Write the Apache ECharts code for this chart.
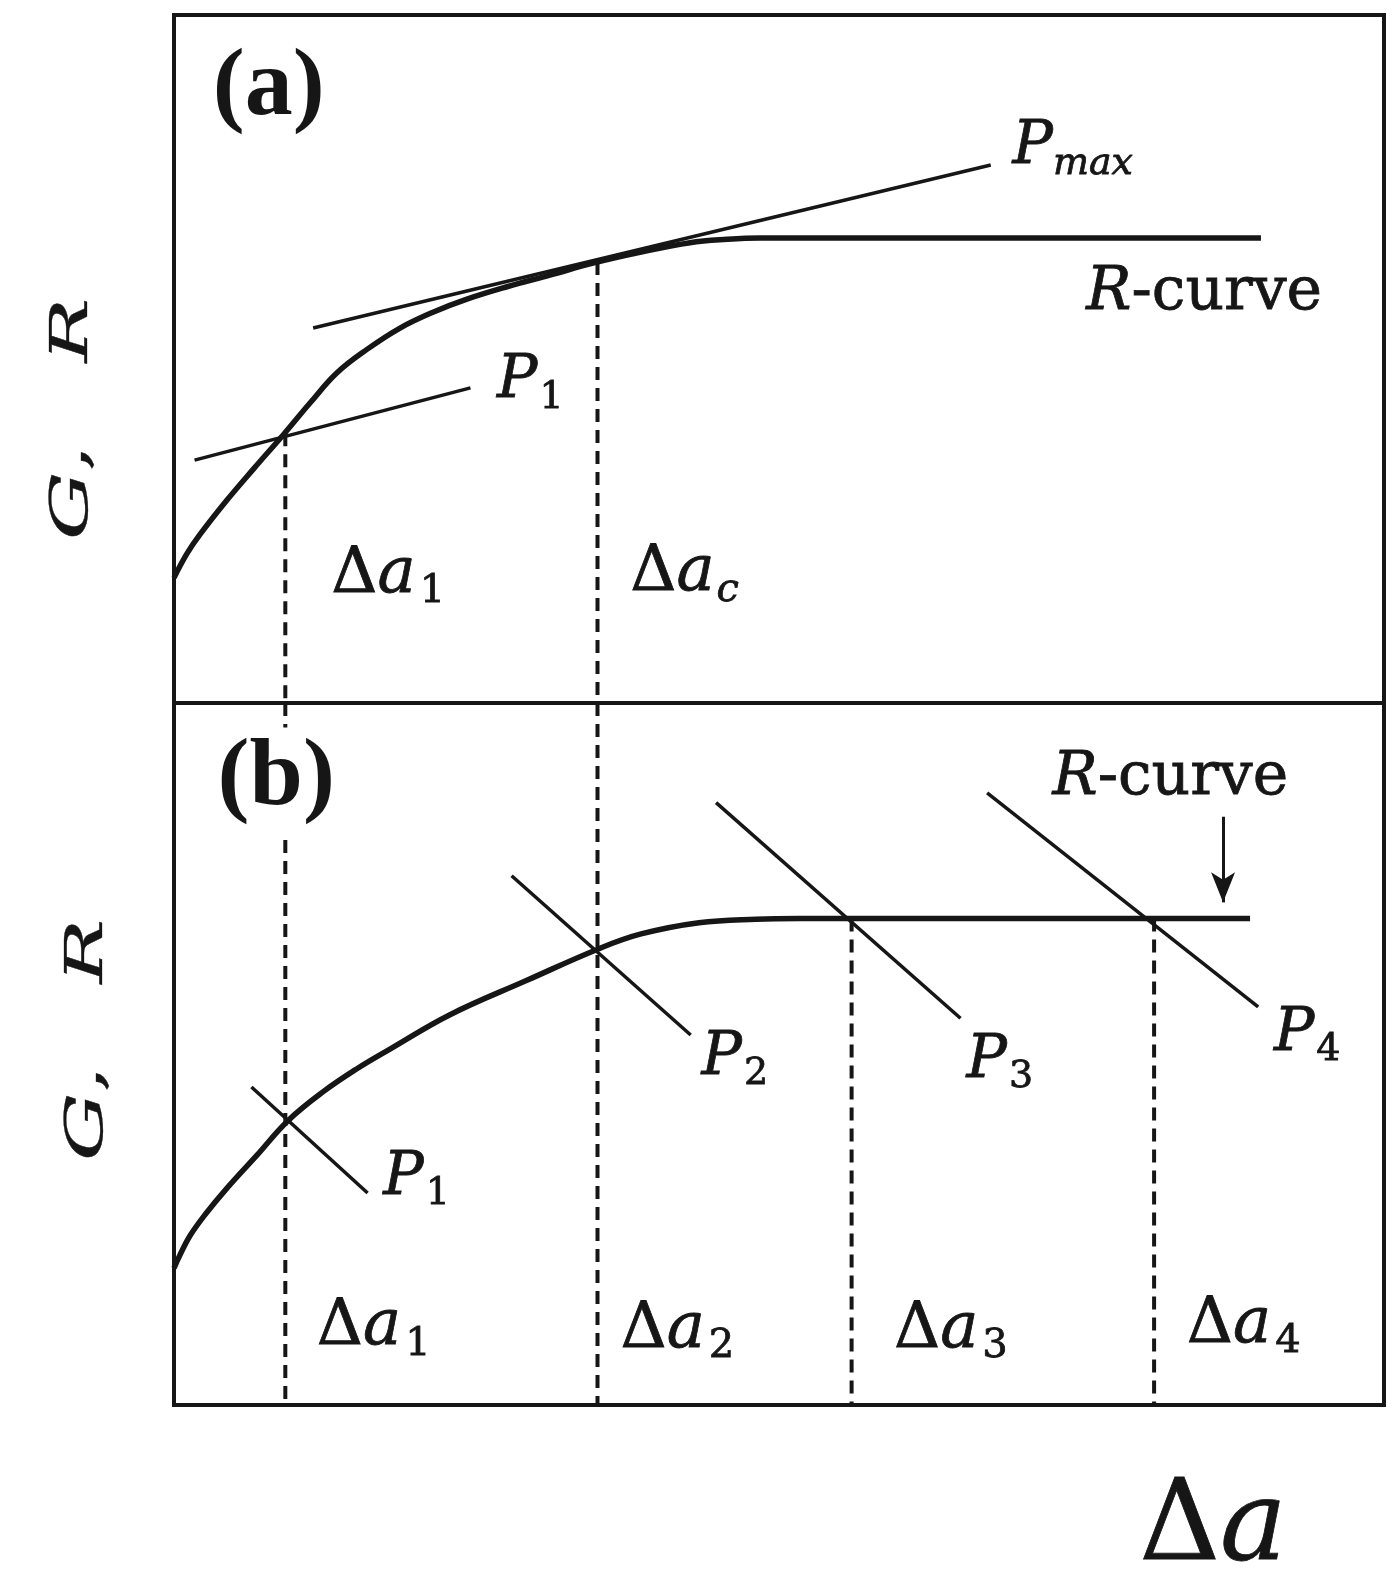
<!DOCTYPE html>
<html>
<head>
<meta charset="utf-8">
<title>R-curve</title>
<script src="https://cdn.jsdelivr.net/npm/echarts@6/dist/echarts.min.js"></script>
<style>
  html, body { margin: 0; padding: 0; background: #fff; }
  #chart { width: 1400px; height: 1587px; }
</style>
</head>
<body>
<div id="chart"></div>
<script>
// schematic units: crack growth 0..100 across, G/R 0..100 up each panel

// panel (a)
var rCurveA = [
  [0, 18.2], [1.07, 21.7], [2.15, 24.5], [4.38, 29.5], [6.61, 34.1], [9.09, 39.1],
  [11.24, 43.6], [13.47, 48.0], [15.95, 51.4], [18.68, 54.5], [21.4, 56.8],
  [24.21, 58.7], [27.52, 60.5], [31.07, 62.2], [34.79, 64.0], [38.51, 65.5],
  [42.64, 66.9], [45.7, 67.4], [48.43, 67.6], [89.83, 67.6]
];
var p1LineA = [[1.7, 35.3], [24.5, 45.8]];
var pMaxLineA = [[11.5, 54.5], [67.5, 78.2]];
var dashesA = [
  [[9.2, 39.2], [9.2, 0]],
  [[35.0, 64.1], [35.0, 0]]
];

// panel (b)
var rCurveB = [
  [0, 19.5], [0.5, 21.4], [1.32, 24.1], [2.56, 27.1], [4.38, 30.9], [6.86, 35.6],
  [9.42, 40.5], [12.31, 44.6], [15.12, 47.9], [17.85, 50.7], [22.81, 55.6],
  [29.17, 60.5], [35.12, 65.0], [38.6, 67.1], [43.39, 68.7], [48.1, 69.2],
  [51.74, 69.3], [88.93, 69.3]
];
var pLinesB = [
  [[6.4, 45.3], [16.0, 30.2]],
  [[27.9, 75.4], [42.7, 52.7]],
  [[44.8, 85.8], [65.0, 55.1]],
  [[67.2, 87.2], [89.6, 56.7]]
];
var dashesB = [
  [[9.2, 100], [9.2, 96.5]],
  [[9.2, 80.5], [9.2, 0]],
  [[35.0, 100], [35.0, 0]],
  [[56.0, 69.3], [56.0, 0]],
  [[81.0, 69.3], [81.0, 0]]
];
var arrowB = [[86.7, 83.8], [86.7, 71.6]];

// annotations: text, x, y (left edge, middle)
var notesA = [
  ['{tag|(a)}', 3.2, 89.2],
  ['{it|P}{sr|1}', 26.7, 46.7],
  ['{it|P}{si|max}', 69.3, 80.7],
  ['{it|R}{rm|-curve}', 75.4, 59.5],
  ['{dm|Δ}{da|a}{ds|1}', 13.0, 18.6],
  ['{dm|Δ}{da|a}{dsi|c}', 37.7, 18.8]
];
var notesB = [
  ['{tag|(b)}', 3.6, 89.2],
  ['{it|R}{rm|-curve}', 72.6, 89.3],
  ['{it|P}{sr|1}', 17.3, 32.3],
  ['{it|P}{sr|2}', 43.6, 49.4],
  ['{it|P}{sr|3}', 65.5, 49.0],
  ['{it|P}{sr|4}', 90.9, 52.8],
  ['{dm|Δ}{da|a}{ds|1}', 11.8, 11.0],
  ['{dm|Δ}{da|a}{ds|2}', 36.9, 10.7],
  ['{dm|Δ}{da|a}{ds|3}', 59.5, 10.7],
  ['{dm|Δ}{da|a}{ds|4}', 83.7, 11.4]
];

var ink = '#161616';
var serif = 'DejaVu Serif';

// label rich styles (echarts names)
function font(size, italic, extra) {
  var s = {
    fontFamily: serif,
    fontSize: size,
    fontStyle: italic ? 'italic' : 'normal',
    color: ink,
    textBorderColor: ink,
    textBorderWidth: 0.8
  };
  if (extra) {
    for (var k in extra) s[k] = extra[k];
  }
  return s;
}

// graphic rich styles (zrender names)
function zfont(size, italic, stroke) {
  return {
    fontFamily: serif,
    fontSize: size,
    fontStyle: italic ? 'italic' : 'normal',
    fill: ink,
    stroke: ink,
    lineWidth: stroke
  };
}

var rich = {
  tag: { fontFamily: 'Liberation Serif', fontWeight: 'bold', fontSize: 96, color: ink },
  it: font(60, true),
  rm: font(60, false),
  sr: font(38, false, { padding: [32, 0, 0, 2] }),
  si: font(38, true, { padding: [32, 0, 0, 0] }),
  dm: font(64, false),
  da: font(64, true),
  ds: font(40, false, { padding: [34, 0, 0, 4] }),
  dsi: font(40, true, { padding: [34, 0, 0, 2] })
};
var axisRich = { it: zfont(52, true, 0.3), rm: zfont(52, false, 0.3) };
var bigRich = { it: zfont(112, true, 0.8), rm: zfont(112, false, 0.8) };

function line(data, grid, width, dashed, smooth) {
  return {
    type: 'line',
    xAxisIndex: grid,
    yAxisIndex: grid,
    data: data,
    symbol: 'none',
    silent: true,
    smooth: smooth || false,
    lineStyle: { color: ink, width: width, type: dashed ? [13, 8] : 'solid', cap: 'butt' }
  };
}

function notes(list, grid) {
  return {
    type: 'scatter',
    xAxisIndex: grid,
    yAxisIndex: grid,
    symbolSize: 1,
    silent: true,
    itemStyle: { color: 'rgba(0,0,0,0)', opacity: 1 },
    label: {
      show: true,
      position: 'inside',
      align: 'left',
      verticalAlign: 'middle',
      rich: rich
    },
    data: list.map(function (n) {
      return {
        value: [n[1], n[2]],
        label: { formatter: function () { return n[0]; } }
      };
    })
  };
}

var series = [];
series.push(line(rCurveA, 0, 5.5, false, 0.4));
series.push(line(p1LineA, 0, 3.5));
series.push(line(pMaxLineA, 0, 3.5));
dashesA.forEach(function (d) { series.push(line(d, 0, 4, true)); });

var rb = line(rCurveB, 1, 5.5, false, 0.4);
rb.markLine = {
  silent: true,
  animation: false,
  symbol: ['none', 'arrow'],
  symbolSize: [18, 30],
  label: { show: false },
  lineStyle: { color: ink, width: 3, type: 'solid', opacity: 1 },
  data: [[{ coord: arrowB[0] }, { coord: arrowB[1] }]]
};
series.push(rb);
pLinesB.forEach(function (p) { series.push(line(p, 1, 3.5)); });
dashesB.forEach(function (d) { series.push(line(d, 1, 4, true)); });

series.push(notes(notesA, 0));
series.push(notes(notesB, 1));

var axisTitle = '{it|G}{rm|,   }{it|R}';

var chart = echarts.init(document.getElementById('chart'));
chart.setOption({
  animation: false,
  backgroundColor: '#ffffff',
  grid: [
    { left: 174, top: 15, width: 1210, height: 688, show: true, borderColor: ink, borderWidth: 4, backgroundColor: 'transparent' },
    { left: 174, top: 703, width: 1210, height: 702, show: true, borderColor: ink, borderWidth: 4, backgroundColor: 'transparent' }
  ],
  xAxis: [
    { gridIndex: 0, type: 'value', min: 0, max: 100, show: false },
    { gridIndex: 1, type: 'value', min: 0, max: 100, show: false }
  ],
  yAxis: [
    { gridIndex: 0, type: 'value', min: 0, max: 100, show: false },
    { gridIndex: 1, type: 'value', min: 0, max: 100, show: false }
  ],
  graphic: [
    {
      type: 'text', x: 73, y: 419, rotation: Math.PI / 2, scaleX: 1.65, silent: true,
      style: { text: axisTitle, rich: axisRich, fill: ink, align: 'center', verticalAlign: 'middle' }
    },
    {
      type: 'text', x: 88, y: 1040, rotation: Math.PI / 2, scaleX: 1.65, silent: true,
      style: { text: axisTitle, rich: axisRich, fill: ink, align: 'center', verticalAlign: 'middle' }
    },
    {
      type: 'text', x: 1213, y: 1530, silent: true,
      style: { text: '{rm|Δ}{it|a}', rich: bigRich, fill: ink, align: 'center', verticalAlign: 'middle' }
    }
  ],
  series: series
});

window.addEventListener('resize', function () {
  chart.resize();
});
</script>
</body>
</html>
